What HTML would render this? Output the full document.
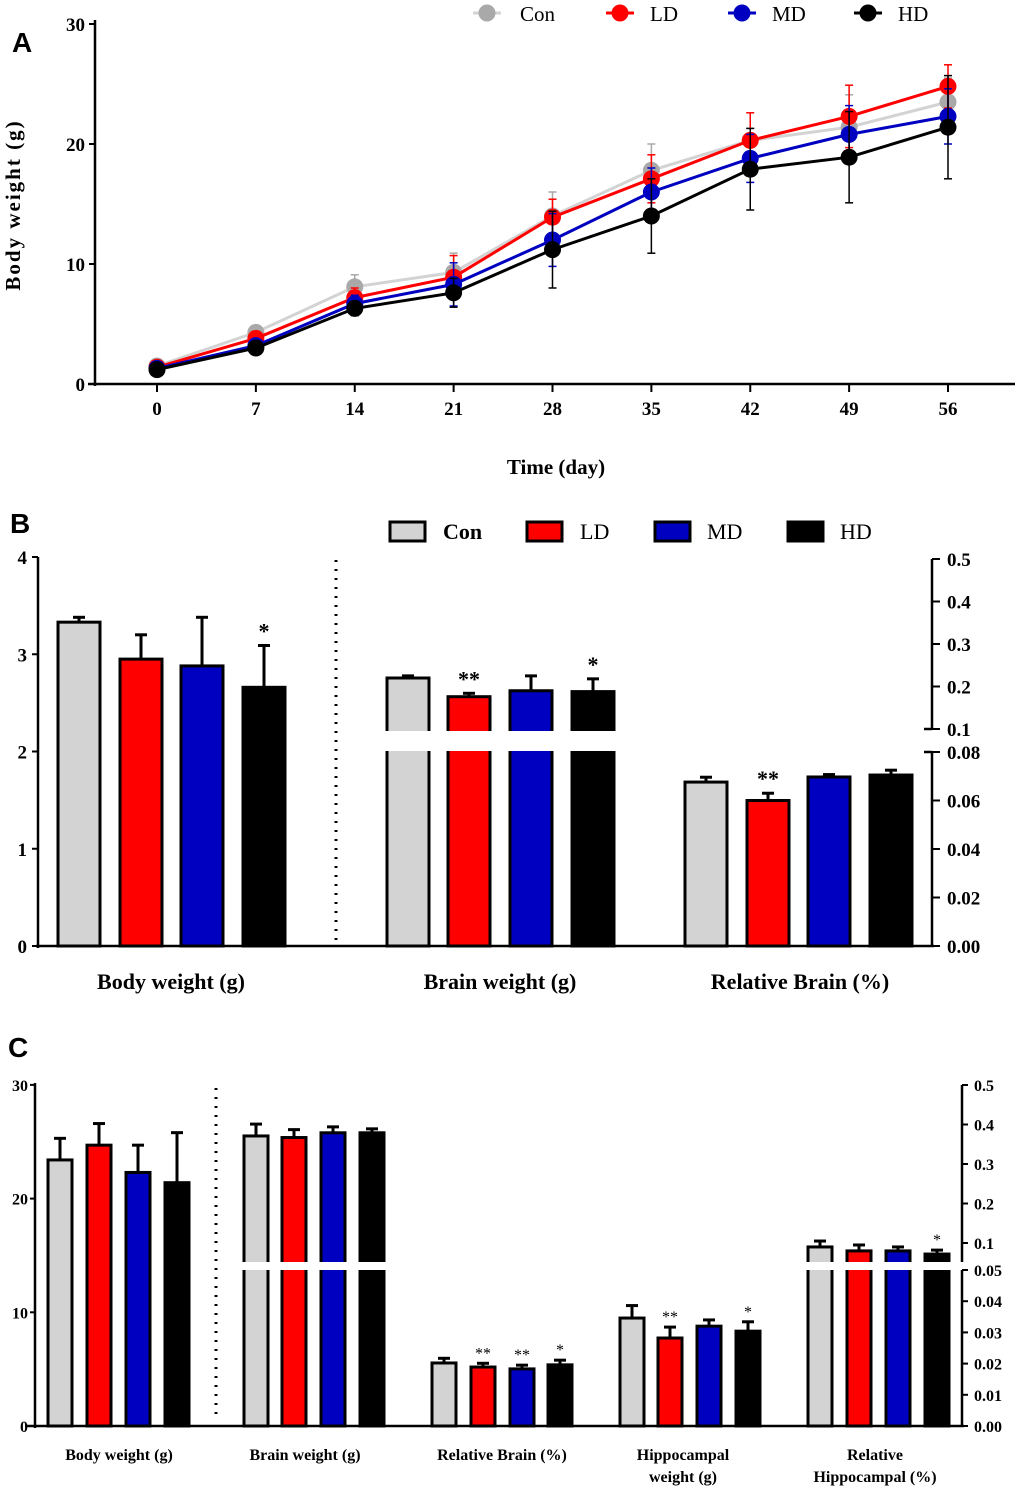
<!DOCTYPE html>
<html><head><meta charset="utf-8"><style>
body{margin:0;background:#fff}
svg{display:block;font-family:"Liberation Serif",serif}
</style></head><body>
<svg id="s" width="1020" height="1491" viewBox="0 0 1020 1491" xmlns="http://www.w3.org/2000/svg"></svg>
<script>
const days=[0,7,14,21,28,35,42,49,56];
const conA=[1.5,4.3,8.1,9.3,14.0,17.8,20.3,21.4,23.5];
const conAErr=[0.3,0.4,1.0,1.6,2.0,2.2,1.0,2.7,2.0];
const ldA=[1.4,3.8,7.2,8.9,13.9,17.1,20.3,22.3,24.8];
const ldAErr=[0.3,0.4,0.8,1.8,1.5,2.0,2.3,2.6,1.8];
const mdA=[1.3,3.2,6.7,8.3,12.0,16.0,18.8,20.8,22.3];
const mdAErr=[0.2,0.3,0.7,1.8,2.2,2.0,2.0,2.4,2.3];
const hdA=[1.2,3.0,6.3,7.6,11.2,14.0,17.9,18.9,21.4];
const hdAErr=[0.2,0.3,0.6,1.2,3.2,3.1,3.4,3.8,4.3];
const yTicksA=[0,10,20,30];
const groups=["Con","LD","MD","HD"];
const bBody=[3.33,2.95,2.88,2.66], bBodyErr=[0.05,0.25,0.5,0.43];
const bBrain=[0.22,0.176,0.19,0.188], bBrainErr=[0.005,0.008,0.035,0.03];
const bRel=[0.0676,0.060,0.0697,0.0705], bRelErr=[0.002,0.003,0.001,0.002];
const bStars=[["","","","*"],["","**","","*"],["","**","",""]];
const cBody=[23.4,24.7,22.3,21.4], cBodyErr=[1.9,1.9,2.4,4.4];
const cBrain=[0.371,0.367,0.379,0.379], cBrainErr=[0.03,0.02,0.015,0.01];
const cRel=[0.0202,0.0189,0.0183,0.0196], cRelErr=[0.0015,0.0012,0.0012,0.0015];
const cHip=[0.0346,0.0282,0.032,0.0304], cHipErr=[0.004,0.0035,0.002,0.003];
const cRelHip=[0.090,0.080,0.080,0.072], cRelHipErr=[0.015,0.015,0.01,0.01];
const cStars=[["","","",""],["","","",""],["","**","**","*"],["","**","","*"],["","","","*"]];
const colors=["#d3d3d3","#ff0000","#0000c0","#000000"];
const ptColors=["#a9a9a9","#ff0000","#0000c0","#000000"];
const lnColors=["#d3d3d3","#ff0000","#0000c0","#000000"];

const S=document.getElementById('s');const NS="http://www.w3.org/2000/svg";
function el(tag,attrs,name,text){const e=document.createElementNS(NS,tag);for(const k in attrs)e.setAttribute(k,attrs[k]);


if(text!==undefined)e.textContent=text;S.appendChild(e);return e;}
function txt(x,y,t,size,name,anchor,extra){const a={x:x,y:y,'font-size':size,'font-weight':'bold','text-anchor':anchor||'middle'};Object.assign(a,extra||{});return el('text',a,name,t);}

// ---------- Panel A ----------
txt(12,52,"A",28,"panel-a-label","start",{'font-family':'Liberation Sans,sans-serif'});
const xA=d=>157+d*(948-157)/56, yA=v=>384-v*12;
el('line',{x1:95,y1:20,x2:95,y2:386,stroke:'#000','stroke-width':2.5},'y-axis-a');
el('line',{x1:88,y1:384,x2:1015,y2:384,stroke:'#000','stroke-width':2.5},'x-axis-a');
yTicksA.forEach(v=>{el('line',{x1:89,y1:yA(v),x2:95,y2:yA(v),stroke:'#000','stroke-width':2},'y-tick');
txt(85,yA(v)+7,String(v),19,'y-tick-label','end');});
days.forEach(d=>{el('line',{x1:xA(d),y1:384,x2:xA(d),y2:392,stroke:'#000','stroke-width':2},'x-tick');
txt(xA(d),415,String(d),19,'x-tick-label');});
txt(556,474,"Time (day)",21,'x-axis-title');
txt(20,205,"Body weight (g)",21,'y-axis-title','middle',{transform:'rotate(-90 20 205)','letter-spacing':'2'});
const seriesA=[[conA,conAErr],[ldA,ldAErr],[mdA,mdAErr],[hdA,hdAErr]];
seriesA.forEach((s,i)=>{const [v,e]=s;
 v.forEach((val,j)=>{const x=xA(days[j]);
  el('line',{x1:x,y1:yA(val+e[j]),x2:x,y2:yA(val-e[j]),stroke:ptColors[i],'stroke-width':1.5},'error-bar-'+groups[i].toLowerCase());
  [val+e[j],val-e[j]].forEach(y=>el('line',{x1:x-4,y1:yA(y),x2:x+4,y2:yA(y),stroke:ptColors[i],'stroke-width':1.5},'error-cap'));});
 el('polyline',{points:v.map((val,j)=>xA(days[j])+','+yA(val)).join(' '),fill:'none',stroke:lnColors[i],'stroke-width':3},'line-'+groups[i].toLowerCase());
 v.forEach((val,j)=>el('circle',{cx:xA(days[j]),cy:yA(val),r:8.5,fill:ptColors[i]},'point-'+groups[i].toLowerCase()));
});
const legA=[[487,520],[620,650],[742,772],[868,898]];
legA.forEach((p,i)=>{el('line',{x1:p[0]-14,y1:13,x2:p[0]+14,y2:13,stroke:lnColors[i],'stroke-width':3},'legend-line');
el('circle',{cx:p[0],cy:13,r:8.5,fill:ptColors[i]},'legend-marker-'+groups[i].toLowerCase());
txt(p[1],21,groups[i],21,'legend-entry-'+groups[i].toLowerCase(),'start',{'font-weight':'normal'});});

// ---------- bar helper ----------
function bar(cx,w,yTop,yBase,yErr,color,name){
 el('line',{x1:cx,y1:yErr,x2:cx,y2:yTop,stroke:'#000','stroke-width':3},name+'-error');
 el('line',{x1:cx-6,y1:yErr,x2:cx+6,y2:yErr,stroke:'#000','stroke-width':3},name+'-error-cap');
 el('rect',{x:cx-w/2,y:yTop,width:w,height:yBase-yTop,fill:color,stroke:'#000','stroke-width':3},name);
}

// ---------- Panel B ----------
txt(10,533,"B",28,"panel-b-label","start",{'font-family':'Liberation Sans,sans-serif'});
const yBL=v=>946-v*97.25, yBU=v=>729-(v-0.1)*425, yBD=v=>946-v*2425;
const legB=[[390,443],[527,580],[655,707],[788,840]];
legB.forEach((p,i)=>{el('rect',{x:p[0],y:522,width:35,height:19,fill:colors[i],stroke:'#000','stroke-width':3},'legend-swatch-'+groups[i].toLowerCase());
txt(p[1],539,groups[i],22,'legend-entry-'+groups[i].toLowerCase(),'start',{'font-weight':i==0?'bold':'normal'});});
const bCent=[[79,141,202,264],[408,469,531,593],[706,768,829,891]];
const bSets=[[bBody,bBodyErr,yBL],[bBrain,bBrainErr,yBU],[bRel,bRelErr,yBD]];
bSets.forEach((s,g)=>{s[0].forEach((v,i)=>{const cx=bCent[g][i];
 bar(cx,42,s[2](v),946,s[2](v+s[1][i]),colors[i],'bar-b-'+g+'-'+groups[i].toLowerCase());
 if(bStars[g][i])txt(cx,s[2](v+s[1][i])-7,bStars[g][i],22,'significance-star');});});
el('rect',{x:370,y:731,width:270,height:20,fill:'#fff'},'axis-break-gap');
el('line',{x1:38,y1:557,x2:38,y2:948,stroke:'#000','stroke-width':2.5},'y-axis-b-left');
el('line',{x1:36,y1:946,x2:934,y2:946,stroke:'#000','stroke-width':2.5},'x-axis-b');
[0,1,2,3,4].forEach(v=>{el('line',{x1:32,y1:yBL(v),x2:38,y2:yBL(v),stroke:'#000','stroke-width':2},'y-tick');txt(27,yBL(v)+7,String(v),19,'y-tick-label','end');});
el('line',{x1:336,y1:560,x2:336,y2:944,stroke:'#000','stroke-width':3,'stroke-dasharray':'2 7'},'divider-dotted');
el('line',{x1:932,y1:559,x2:932,y2:729,stroke:'#000','stroke-width':2.5},'y-axis-b-right-upper');
el('line',{x1:932,y1:752,x2:932,y2:946,stroke:'#000','stroke-width':2.5},'y-axis-b-right-lower');
el('line',{x1:924,y1:729,x2:932,y2:729,stroke:'#000','stroke-width':2.5},'axis-break-mark');
el('line',{x1:924,y1:752,x2:932,y2:752,stroke:'#000','stroke-width':2.5},'axis-break-mark');
[0.1,0.2,0.3,0.4,0.5].forEach(v=>{el('line',{x1:932,y1:yBU(v),x2:940,y2:yBU(v),stroke:'#000','stroke-width':2},'y-tick');txt(947,yBU(v)+7,v.toFixed(1),19,'y-tick-label','start');});
[0,0.02,0.04,0.06,0.08].forEach(v=>{el('line',{x1:932,y1:yBD(v),x2:940,y2:yBD(v),stroke:'#000','stroke-width':2},'y-tick');txt(947,yBD(v)+7,v.toFixed(2),19,'y-tick-label','start');});
txt(171,989,"Body weight (g)",22,'category-label');
txt(500,989,"Brain weight (g)",22,'category-label');
txt(800,989,"Relative Brain (%)",22,'category-label');

// ---------- Panel C ----------
txt(8,1057,"C",28,"panel-c-label","start",{'font-family':'Liberation Sans,sans-serif'});
const yCL=v=>1426-v*11.37, yCU=v=>1243-(v-0.1)*395, yCD=v=>1426-v*3120;
const cCent=[[60,99,138,177],[256,294,333,372],[444,483,522,560],[632,670,709,748],[820,859,898,937]];
const cSets=[[cBody,cBodyErr,yCL],[cBrain,cBrainErr,yCU],[cRel,cRelErr,yCD],[cHip,cHipErr,yCD],[cRelHip,cRelHipErr,yCU]];
cSets.forEach((s,g)=>{s[0].forEach((v,i)=>{const cx=cCent[g][i];
 bar(cx,24,s[2](v),1426,s[2](v+s[1][i]),colors[i],'bar-c-'+g+'-'+groups[i].toLowerCase());
 if(cStars[g][i])txt(cx,s[2](v+s[1][i])-5,cStars[g][i],16,'significance-star','middle',{'font-weight':'normal'});});});
el('rect',{x:240,y:1262,width:150,height:8,fill:'#fff'},'axis-break-gap');
el('rect',{x:805,y:1262,width:150,height:8,fill:'#fff'},'axis-break-gap');
el('line',{x1:35,y1:1083,x2:35,y2:1428,stroke:'#000','stroke-width':2.5},'y-axis-c-left');
el('line',{x1:25,y1:1426,x2:964,y2:1426,stroke:'#000','stroke-width':2.5},'x-axis-c');
[0,10,20,30].forEach(v=>{el('line',{x1:30,y1:yCL(v),x2:35,y2:yCL(v),stroke:'#000','stroke-width':2},'y-tick');txt(28,yCL(v)+6,String(v),16,'y-tick-label','end');});
el('line',{x1:216,y1:1088,x2:216,y2:1420,stroke:'#000','stroke-width':3,'stroke-dasharray':'2 7'},'divider-dotted');
el('line',{x1:962,y1:1085,x2:962,y2:1262,stroke:'#000','stroke-width':2.5},'y-axis-c-right-upper');
el('line',{x1:962,y1:1270,x2:962,y2:1426,stroke:'#000','stroke-width':2.5},'y-axis-c-right-lower');
[0.1,0.2,0.3,0.4,0.5].forEach(v=>{el('line',{x1:962,y1:yCU(v),x2:968,y2:yCU(v),stroke:'#000','stroke-width':2},'y-tick');txt(974,yCU(v)+6,v.toFixed(1),16,'y-tick-label','start');});
[0,0.01,0.02,0.03,0.04,0.05].forEach(v=>{el('line',{x1:962,y1:yCD(v),x2:968,y2:yCD(v),stroke:'#000','stroke-width':2},'y-tick');txt(974,yCD(v)+6,v.toFixed(2),16,'y-tick-label','start');});
txt(119,1460,"Body weight (g)",16,'category-label');
txt(305,1460,"Brain weight (g)",16,'category-label');
txt(502,1460,"Relative Brain (%)",16,'category-label');
txt(683,1460,"Hippocampal",16,'category-label');
txt(683,1482,"weight (g)",16,'category-label');
txt(875,1460,"Relative",16,'category-label');
txt(875,1482,"Hippocampal (%)",16,'category-label');
</script>
</body></html>
